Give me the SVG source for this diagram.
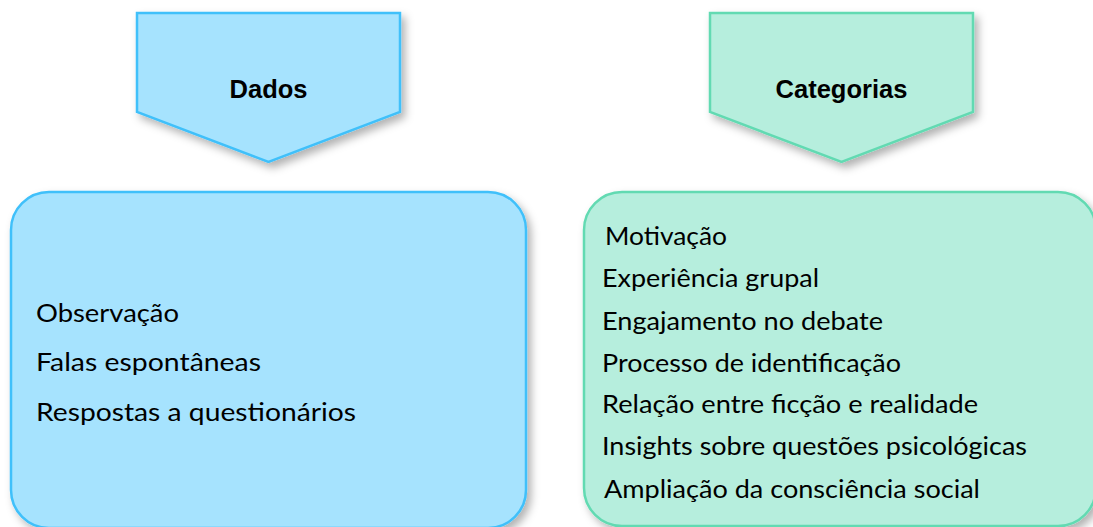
<svg xmlns="http://www.w3.org/2000/svg" width="1093" height="527" viewBox="0 0 1093 527">
<style>
.blue{fill:#A6E3FE;stroke:#3FC0FA;stroke-width:2.5}
.green{fill:#B6EEDD;stroke:#62DAB2;stroke-width:2.5}
.head{font-family:"Liberation Sans",Arial,sans-serif;font-weight:bold;font-size:25.5px;fill:#000;text-anchor:middle}
.item{font-family:Lato,"Open Sans",sans-serif;font-size:25px;fill:#000}
</style>
<defs>
<filter id="sh" x="-10%" y="-10%" width="125%" height="130%">
<feDropShadow dx="4" dy="5" stdDeviation="4" flood-color="#000" flood-opacity="0.3"/>
</filter>
</defs>
<g id="connectors"></g>
<g id="dados">
<path class="blue" filter="url(#sh)" d="M137,13 L400,13 L400,112 L268.5,162 L137,112 Z"/>
<text class="head" x="268.5" y="98">Dados</text>
</g>
<g id="categorias">
<path class="green" filter="url(#sh)" d="M710,13 L973,13 L973,112 L841.5,162 L710,112 Z"/>
<text class="head" x="841.5" y="98">Categorias</text>
</g>
<g id="dados-lista">
<rect class="blue" filter="url(#sh)" x="11" y="192" width="515" height="336" rx="38" ry="38"/>
<text class="item" x="36" y="322" textLength="143" lengthAdjust="spacingAndGlyphs">Observação</text>
<text class="item" x="36" y="371" textLength="225" lengthAdjust="spacingAndGlyphs">Falas espontâneas</text>
<text class="item" x="36" y="421" textLength="320" lengthAdjust="spacingAndGlyphs">Respostas a questionários</text>
</g>
<g id="categorias-lista">
<rect class="green" filter="url(#sh)" x="584" y="192" width="512" height="334" rx="38" ry="38"/>
<text class="item" x="605" y="245" textLength="122" lengthAdjust="spacingAndGlyphs">Motivação</text>
<text class="item" x="602" y="287" textLength="217" lengthAdjust="spacingAndGlyphs">Experiência grupal</text>
<text class="item" x="602" y="330" textLength="281" lengthAdjust="spacingAndGlyphs">Engajamento no debate</text>
<text class="item" x="602" y="372" textLength="299" lengthAdjust="spacingAndGlyphs">Processo de identificação</text>
<text class="item" x="602" y="413" textLength="376" lengthAdjust="spacingAndGlyphs">Relação entre ficção e realidade</text>
<text class="item" x="602" y="455" textLength="425" lengthAdjust="spacingAndGlyphs">Insights sobre questões psicológicas</text>
<text class="item" x="604" y="498" textLength="376" lengthAdjust="spacingAndGlyphs">Ampliação da consciência social</text>
</g>
</svg>
